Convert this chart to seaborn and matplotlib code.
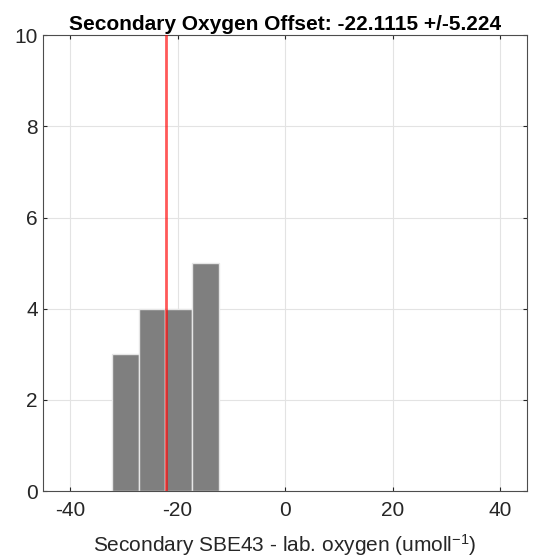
import matplotlib
matplotlib.use("Agg")
import matplotlib.pyplot as plt
import seaborn as sns
import numpy as np

# Histogram of secondary sensor minus lab oxygen differences
bin_edges = [-32.2, -27.25, -22.3, -17.35, -12.4]
bin_counts = [3, 4, 4, 5]
offset_mean = -22.1115
offset_std = 5.224
x_ticks = [-40, -20, 0, 20, 40]
y_ticks = [0, 2, 4, 6, 8, 10]

sns.set_theme(style="white")
plt.rcParams["font.family"] = ["Liberation Sans", "DejaVu Sans"]
plt.rcParams["mathtext.fontset"] = "custom"
plt.rcParams["mathtext.rm"] = "Liberation Sans"
plt.rcParams["mathtext.it"] = "Liberation Sans:italic"

centers = [(a + b) / 2 for a, b in zip(bin_edges[:-1], bin_edges[1:])]

fig = plt.figure(figsize=(5.35, 5.58), dpi=100)
ax = fig.add_axes([0.081, 0.120, 0.904, 0.817])

sns.histplot(x=centers, weights=bin_counts, bins=bin_edges, ax=ax,
             color="#7f7f7f", edgecolor="#e6e6e6", linewidth=1.0, alpha=1.0)
ax.axvline(offset_mean, color="#ff0000", alpha=0.65, linewidth=2.0, zorder=5)

ax.set_xlim(-45, 45)
ax.set_ylim(0, 10)
ax.set_xticks(x_ticks)
ax.set_yticks(y_ticks)
ax.set_xticklabels([str(t) for t in x_ticks])
ax.set_yticklabels([str(t) for t in y_ticks])
ax.grid(True, color="#e3e3e3", linewidth=0.8)
ax.set_axisbelow(True)
ax.tick_params(direction="in", length=3, width=0.8, colors="#262626",
               labelsize=15, top=True, right=True, bottom=True, left=True)
ax.tick_params(axis="x", pad=7)
ax.tick_params(axis="y", pad=4)
for s in ax.spines.values():
    s.set_color("#4d4d4d")
    s.set_linewidth(0.8)

ax.set_ylabel("")
ax.set_xlabel("Secondary SBE43 - lab. oxygen (umoll$^{-1}$)", fontsize=15,
              color="#262626", labelpad=9)
ax.set_title(f"Secondary Oxygen Offset: {offset_mean} +/-{offset_std}",
             fontsize=15, fontweight="bold", color="black", pad=4)

fig.savefig("out.png", dpi=100)
